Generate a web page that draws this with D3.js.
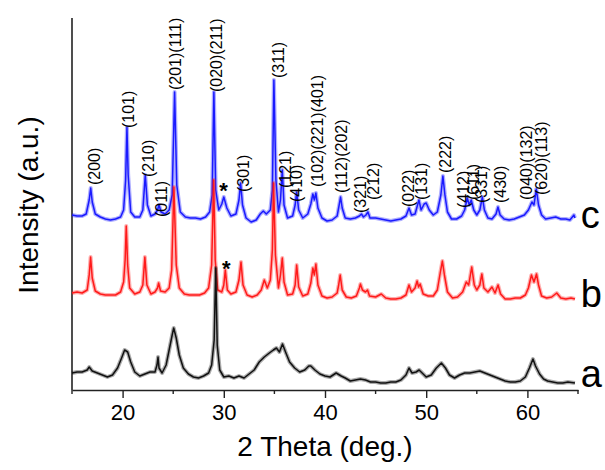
<!DOCTYPE html>
<html lang="en"><head>
<meta charset="utf-8">
<title>XRD patterns</title>
<script src="https://cdn.jsdelivr.net/npm/d3@7"></script>
<style>
  body { margin: 0; background: #fff; }
  svg text { font-family: "Liberation Sans", Arial, sans-serif; fill: #000; }
</style>
</head>
<body>
<svg id="chart" width="605" height="470"></svg>
<script>
// [2theta, intensity (a.u., stacked)]
const traceA = [[15.0,17],[15.5,18],[16.0,18],[16.5,20],[16.7,23],[17.0,19],[17.5,17],[18.0,15],[18.5,13],[19.0,15],[19.5,22],[19.9,32],[20.2,40],[20.5,38],[20.8,28],[21.2,18],[21.7,14],[22.2,16],[22.7,18],[23.2,18],[23.4,25],[23.5,33],[23.6,22],[23.9,17],[24.3,25],[24.6,40],[24.9,55],[25.05,62],[25.3,52],[25.6,35],[26.0,22],[26.5,16],[27.0,13],[27.5,12],[28.0,14],[28.5,17],[28.8,25],[29.05,50],[29.2,122],[29.35,45],[29.6,20],[30.0,13],[30.5,14],[31.0,12],[31.5,14],[32.0,12],[32.5,16],[33.0,20],[33.5,28],[34.0,33],[34.5,37],[34.9,40],[35.2,42],[35.5,38],[35.8,46],[36.1,38],[36.5,28],[37.0,22],[37.5,18],[38.0,20],[38.4,24],[38.6,24],[39.0,20],[39.5,16],[40.0,14],[40.5,13],[41.1,17],[41.6,14],[42.0,12],[42.5,9],[43.0,10],[43.5,11],[44.0,10],[44.5,8],[45.0,8],[45.5,7],[46.0,7],[46.5,8],[47.0,8],[47.5,10],[48.0,15],[48.3,22],[48.6,17],[49.0,18],[49.3,20],[49.6,17],[50.0,13],[50.5,15],[51.0,22],[51.5,27],[51.9,22],[52.3,15],[52.8,12],[53.3,15],[53.8,17],[54.3,17],[54.8,18],[55.3,19],[55.8,17],[56.3,15],[56.8,13],[57.3,11],[57.8,9],[58.3,8],[58.8,8],[59.3,9],[59.8,13],[60.2,22],[60.55,31],[60.8,24],[61.2,16],[61.6,11],[62.0,9],[62.5,8],[63.0,7],[63.5,7],[64.0,8],[64.7,7]];

const traceB = [[15.0,97],[15.5,98],[16.0,97],[16.5,100],[16.7,115],[16.84,133],[17.0,112],[17.3,99],[17.8,96],[18.3,95],[18.8,95],[19.3,95],[19.8,98],[20.1,108],[20.25,130],[20.36,164],[20.5,125],[20.7,102],[21.2,96],[21.7,98],[22.0,105],[22.2,133],[22.4,105],[22.8,96],[23.2,98],[23.45,102],[23.56,107],[23.75,99],[24.2,98],[24.6,102],[24.85,120],[25.07,203],[25.3,125],[25.6,102],[26.1,96],[26.6,95],[27.1,95],[27.6,95],[28.1,97],[28.5,102],[28.8,125],[29.0,210],[29.15,130],[29.4,100],[29.8,98],[30.0,105],[30.15,120],[30.35,100],[30.7,96],[31.2,98],[31.5,110],[31.7,128],[31.9,105],[32.3,95],[32.8,93],[33.3,95],[33.7,100],[34.0,110],[34.3,102],[34.6,110],[34.8,140],[34.92,207],[35.1,135],[35.4,102],[35.6,115],[35.78,132],[35.95,108],[36.3,95],[36.8,96],[37.05,105],[37.2,125],[37.4,103],[37.8,94],[38.3,96],[38.6,107],[38.8,122],[38.95,115],[39.1,126],[39.3,105],[39.7,94],[40.2,92],[40.7,93],[41.2,97],[41.35,105],[41.5,115],[41.7,100],[42.1,93],[42.6,92],[43.1,94],[43.4,102],[43.5,106],[43.7,100],[44.0,98],[44.2,100],[44.4,94],[45.0,93],[45.56,96],[46.0,92],[46.5,91],[47.0,91],[47.5,92],[48.0,95],[48.3,105],[48.55,98],[48.9,102],[49.1,109],[49.25,103],[49.4,106],[49.7,96],[50.2,94],[50.7,94],[51.1,100],[51.4,118],[51.6,129],[51.8,115],[52.1,98],[52.6,92],[53.1,93],[53.6,98],[53.96,108],[54.2,105],[54.5,123],[54.75,105],[55.0,100],[55.3,105],[55.5,116],[55.7,102],[56.1,98],[56.5,103],[56.8,97],[57.1,105],[57.35,96],[57.8,91],[58.3,91],[58.8,92],[59.3,92],[59.8,95],[60.1,102],[60.4,115],[60.65,108],[60.9,116],[61.1,105],[61.4,94],[61.9,92],[62.4,93],[62.9,97],[63.3,92],[63.8,91],[64.3,92],[64.7,91]];

const traceC = [[15.0,175],[15.5,174],[16.0,174],[16.4,176],[16.7,190],[16.85,202],[17.0,188],[17.3,176],[17.8,173],[18.3,171],[18.8,170],[19.3,171],[19.8,173],[20.1,180],[20.3,210],[20.43,263],[20.55,215],[20.8,178],[21.2,173],[21.7,173],[22.0,180],[22.24,215],[22.45,185],[22.8,174],[23.2,176],[23.45,180],[23.6,185],[23.8,178],[24.2,176],[24.6,180],[24.9,195],[25.14,298],[25.35,205],[25.7,178],[26.2,173],[26.7,172],[27.2,172],[27.7,171],[28.2,173],[28.6,178],[28.85,195],[29.02,298],[29.2,200],[29.5,180],[29.8,186],[30.0,193],[30.3,182],[30.7,174],[31.2,176],[31.5,190],[31.66,207],[31.85,185],[32.2,172],[32.7,168],[33.2,170],[33.6,176],[33.9,179],[34.2,176],[34.6,180],[34.8,200],[34.95,310],[35.15,210],[35.4,178],[35.6,190],[35.78,220],[35.95,185],[36.3,172],[36.8,174],[37.05,185],[37.2,198],[37.4,180],[37.8,172],[38.3,176],[38.6,186],[38.8,196],[38.95,190],[39.1,197],[39.3,182],[39.7,172],[40.2,169],[40.7,170],[41.2,174],[41.4,185],[41.54,193],[41.7,182],[42.0,172],[42.5,171],[43.0,172],[43.4,174],[43.6,176],[43.8,173],[44.05,175],[44.24,178],[44.45,172],[45.0,172],[45.5,171],[46.0,170],[46.5,169],[47.0,170],[47.5,171],[48.0,174],[48.3,182],[48.55,175],[48.9,176],[49.28,190],[49.5,180],[49.8,186],[50.0,187],[50.3,180],[50.7,175],[51.1,178],[51.45,195],[51.65,214],[51.85,195],[52.1,178],[52.5,171],[53.0,171],[53.5,174],[53.8,180],[54.06,192],[54.25,185],[54.45,190],[54.7,180],[55.0,175],[55.3,180],[55.55,193],[55.75,180],[56.1,172],[56.5,171],[56.9,176],[57.09,183],[57.3,175],[57.7,171],[58.2,170],[58.7,171],[59.2,173],[59.7,175],[60.1,180],[60.45,188],[60.65,185],[60.88,201],[61.1,185],[61.4,175],[61.8,171],[62.3,172],[62.8,173],[63.3,171],[63.8,171],[64.2,170],[64.6,175],[64.7,172]];

// hkl labels: [text, 2theta at label centre, intensity at label foot]
const peakLabels = [["(200)",17.23,205],["(101)",20.59,262],["(210)",22.57,213],["(011)",23.82,173],["(201)(111)",25.24,300],["(020)(211)",29.29,298],["(301)",31.96,198],["(311)",35.42,312],["(121)",36.08,202],["(410)",37.19,188],["(102)(221)(401)",39.27,203],["(112)(202)",41.64,197],["(321)",43.52,177],["(212)",44.8,190],["(022)",48.26,183],["(131)",49.52,190],["(222)",51.89,217],["(412)",53.7,182],["(611)",54.68,190],["(331)",55.47,187],["(430)",57.32,187],["(040)(132)",59.92,190],["(620)(113)",61.37,195]];

// impurity marks [2theta, intensity]
const stars = [[29.98,205],[30.25,127]];

// sample names [name, 2theta, intensity]
const sampleNames = [["a",65.26,3],["b",65.26,83],["c",65.26,162]];

const majorTicks = [20, 30, 40, 50, 60];
const minorTicks = [15, 25, 35, 45, 55, 65];

const svg = d3.select("#chart");
const x = d3.scaleLinear().domain([15, 65]).range([72, 578]);
const y = d3.scaleLinear().domain([0, 372]).range([390, 18]);

// axes
svg.append("line")
  .attr("x1", 72).attr("x2", 72).attr("y1", y(372)).attr("y2", y(0))
  .attr("stroke", "#222").attr("stroke-width", 1.6);

const gx = svg.append("g").attr("transform", `translate(0,${y(0)})`)
  .call(d3.axisBottom(x).tickValues(majorTicks).tickSize(8).tickSizeOuter(0).tickPadding(6));
gx.select(".domain").attr("stroke", "#222").attr("stroke-width", 1.6);
gx.selectAll(".tick line").attr("stroke", "#222").attr("stroke-width", 1.4);
gx.selectAll(".tick text").style("font-size", "22px").style("font-family", "Liberation Sans, Arial, sans-serif");

gx.selectAll(".minor").data(minorTicks).enter().append("line")
  .attr("class", "minor")
  .attr("x1", d => x(d)).attr("x2", d => x(d))
  .attr("y1", 0).attr("y2", 4)
  .attr("stroke", "#222").attr("stroke-width", 1.4);

svg.append("text")
  .attr("x", (x(15) + x(65)) / 2).attr("y", 456)
  .attr("text-anchor", "middle")
  .style("font-size", "28px")
  .text("2 Theta (deg.)");

svg.append("text")
  .attr("transform", `translate(38,${205}) rotate(-90)`)
  .attr("text-anchor", "middle")
  .style("font-size", "28px")
  .text("Intensity (a.u.)");

// patterns: a soft wide stroke under the line to mimic the noise band
const line = d3.line().x(d => x(d[0])).y(d => y(d[1]));
const series = [
  { data: traceC, color: "#1a1aff" },
  { data: traceB, color: "#ff1a1a" },
  { data: traceA, color: "#111" }
];
const pg = svg.selectAll(".pattern").data(series).enter().append("g").attr("class", "pattern");
pg.append("path")
  .attr("d", d => line(d.data))
  .attr("fill", "none")
  .attr("stroke", d => d.color)
  .attr("stroke-opacity", 0.35)
  .attr("stroke-width", 4)
  .attr("stroke-linejoin", "round");
pg.append("path")
  .attr("d", d => line(d.data))
  .attr("fill", "none")
  .attr("stroke", d => d.color)
  .attr("stroke-width", 1.5)
  .attr("stroke-linejoin", "round");

// hkl labels
svg.selectAll(".hkl").data(peakLabels).enter().append("text")
  .attr("class", "hkl")
  .attr("transform", d => `translate(${x(d[1])},${y(d[2])}) rotate(-90)`)
  .attr("dy", "0.35em")
  .style("font-size", "16px")
  .text(d => d[0]);

svg.selectAll(".star").data(stars).enter().append("text")
  .attr("class", "star")
  .attr("x", d => x(d[0])).attr("y", d => y(d[1]) + 13)
  .attr("text-anchor", "middle")
  .style("font-size", "22px").style("font-weight", "bold")
  .text("*");

svg.selectAll(".sample").data(sampleNames).enter().append("text")
  .attr("class", "sample")
  .attr("x", d => x(d[1])).attr("y", d => y(d[2]))
  .style("font-size", "38px")
  .text(d => d[0]);
</script>
</body>
</html>
